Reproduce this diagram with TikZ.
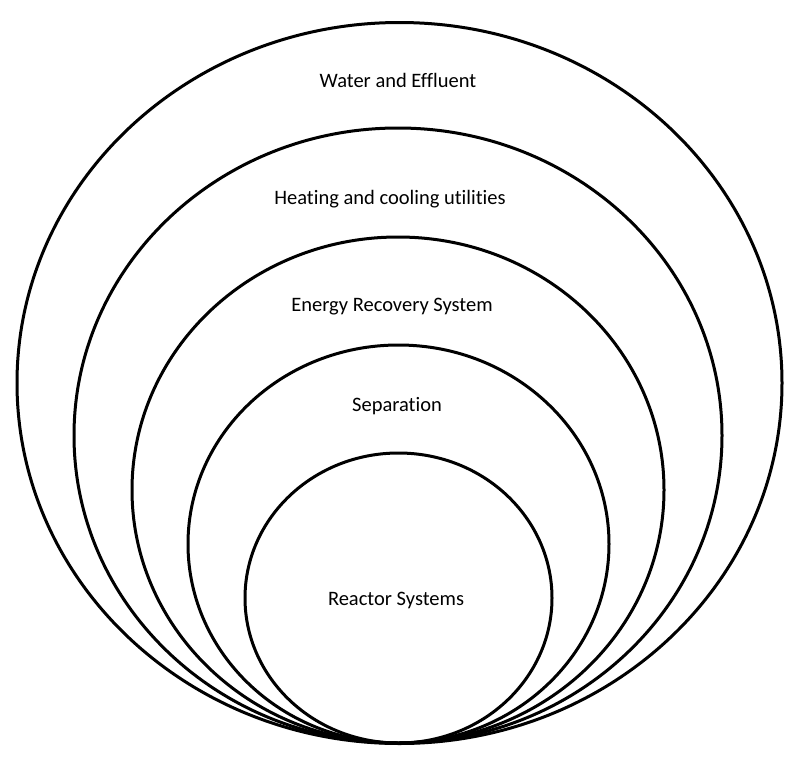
\documentclass[tikz,border=0pt]{standalone}
\usepackage{fontspec}
\setmainfont[Ligatures=NoCommon]{Carlito}
\usetikzlibrary{shapes.geometric}
\tikzset{
  ring/.style={ellipse, draw=black, line width=3pt, inner sep=0pt, outer sep=0pt},
  lbl/.style={font=\fontsize{20.5}{24}\selectfont, text=black, inner sep=0pt}
}
\begin{document}
\begin{tikzpicture}[x=1pt,y=-1pt]
\useasboundingbox[fill=white] (0,0) rectangle (798,761);
\node[ring, minimum width=765pt, minimum height=721pt] (r1) at (399.5,383) {};
\node[ring, minimum width=648pt, minimum height=615pt] (r2) at (398,435.5) {};
\node[ring, minimum width=532pt, minimum height=506pt] (r3) at (398,490) {};
\node[ring, minimum width=421pt, minimum height=398pt] (r4) at (398.5,544) {};
\node[ring, minimum width=307pt, minimum height=290pt] (r5) at (398.5,598) {};
\node[lbl] (t1) at (398,80) {Water and Effluent};
\node[lbl] (t2) at (390,199) {Heating and cooling utilities};
\node[lbl] (t3) at (392,307) {Energy Recovery System};
\node[lbl] (t4) at (397,406) {Separation};
\node[lbl] (t5) at (396,600) {Reactor Systems};
\end{tikzpicture}
\end{document}
